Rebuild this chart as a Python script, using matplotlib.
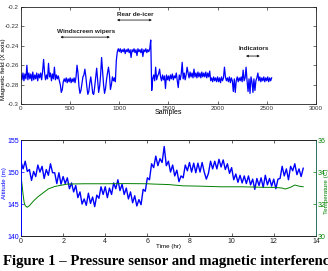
import matplotlib
matplotlib.use('Agg')
import matplotlib.pyplot as plt
import numpy as np

plt.rcParams['font.family'] = 'Liberation Sans'

# --- magnetic field, one value every 10 samples (0 .. 2550)
samples = np.arange(0, 2560, 10)
field = [
    -0.270, -0.275, -0.268, -0.276, -0.269, -0.274, -0.260, -0.275, -0.268, -0.274,
    -0.269, -0.276, -0.267, -0.275, -0.270, -0.274, -0.268, -0.276, -0.269, -0.273,
    -0.268, -0.275, -0.266, -0.254, -0.268, -0.275, -0.270, -0.274, -0.258, -0.272,
    -0.268, -0.276, -0.269, -0.274, -0.262, -0.275, -0.270, -0.274, -0.271, -0.276,
    -0.280, -0.288, -0.285, -0.277, -0.274, -0.277, -0.273, -0.278, -0.274, -0.277,
    -0.273, -0.278, -0.274, -0.277, -0.273, -0.278, -0.272, -0.260, -0.268, -0.282,
    -0.289, -0.286, -0.279, -0.272, -0.270, -0.264, -0.272, -0.282, -0.290, -0.287,
    -0.278, -0.272, -0.280, -0.289, -0.290, -0.282, -0.272, -0.263, -0.275, -0.288,
    -0.282, -0.270, -0.252, -0.266, -0.280, -0.289, -0.284, -0.275, -0.268, -0.262,
    -0.270, -0.285, -0.280, -0.272, -0.276, -0.273, -0.277, -0.255, -0.246, -0.243,
    -0.246, -0.243, -0.247, -0.244, -0.246, -0.243, -0.248, -0.244, -0.246, -0.243,
    -0.247, -0.244, -0.252, -0.244, -0.246, -0.243, -0.247, -0.244, -0.250, -0.243,
    -0.246, -0.244, -0.247, -0.243, -0.251, -0.244, -0.246, -0.243, -0.247, -0.244,
    -0.246, -0.243, -0.234, -0.286, -0.274, -0.270, -0.276, -0.262, -0.275, -0.271,
    -0.269, -0.264, -0.272, -0.276, -0.270, -0.275, -0.271, -0.284, -0.270, -0.275,
    -0.271, -0.276, -0.270, -0.274, -0.269, -0.275, -0.271, -0.273, -0.268, -0.276,
    -0.283, -0.270, -0.275, -0.269, -0.257, -0.274, -0.268, -0.275, -0.270, -0.262,
    -0.268, -0.273, -0.267, -0.272, -0.268, -0.273, -0.264, -0.272, -0.268, -0.273,
    -0.267, -0.272, -0.268, -0.273, -0.267, -0.272, -0.268, -0.272, -0.267, -0.273,
    -0.268, -0.272, -0.266, -0.276, -0.273, -0.277, -0.272, -0.276, -0.273, -0.277,
    -0.272, -0.277, -0.273, -0.278, -0.272, -0.276, -0.273, -0.262, -0.272, -0.276,
    -0.273, -0.277, -0.272, -0.278, -0.273, -0.276, -0.287, -0.274, -0.288, -0.276,
    -0.272, -0.277, -0.273, -0.276, -0.272, -0.277, -0.265, -0.276, -0.273, -0.262,
    -0.276, -0.287, -0.274, -0.289, -0.272, -0.277, -0.288, -0.274, -0.286, -0.276,
    -0.273, -0.268, -0.276, -0.272, -0.277, -0.273, -0.276, -0.272, -0.277, -0.273,
    -0.276, -0.272, -0.277, -0.273, -0.276, -0.273,
]

# --- altitude, one value every 0.1 hr (0 .. 13.4)
hours = np.arange(0, 135) / 10
altitude = [
    151.6, 150.5, 151.7, 150.1, 150.4, 148.7, 150.1, 149.3, 151.1, 150.0,
    150.9, 149.0, 150.4, 149.5, 151.3, 149.9, 149.9, 148.2, 149.9, 148.1,
    149.3, 148.2, 149.1, 147.4, 148.3, 146.9, 147.9, 146.0, 146.9, 145.0,
    145.8, 144.8, 146.7, 145.1, 146.1, 144.6, 146.4, 145.9, 147.7, 146.5,
    147.7, 146.0, 147.5, 146.5, 148.3, 147.4, 148.8, 147.1, 148.1, 146.5,
    147.5, 145.8, 146.9, 145.2, 146.3, 144.7, 145.7, 144.9, 147.3, 147.0,
    149.1, 148.8, 151.3, 150.7, 152.5, 151.0, 152.1, 151.5, 154.0, 151.0,
    151.7, 150.0, 151.1, 149.4, 150.3, 148.5, 149.4, 149.1, 151.1, 150.2,
    151.5, 150.0, 151.4, 149.9, 151.4, 150.0, 151.5, 150.0, 148.9, 149.8,
    151.7, 150.5, 151.7, 150.5, 152.0, 150.8, 151.9, 150.4, 151.3, 149.8,
    150.7, 148.8, 149.7, 148.4, 149.5, 148.3, 149.4, 148.2, 149.4, 148.0,
    148.9, 147.3, 149.0, 147.9, 149.1, 147.6, 149.5, 148.0, 149.0, 147.8,
    148.9, 147.4, 148.9, 149.0, 150.9, 149.4, 150.5, 148.8, 150.9, 150.2,
    151.3, 149.6, 150.5, 149.3, 150.6,
]

# --- temperature
temp_hours = [0.0, 0.05, 0.1, 0.15, 0.2, 0.3, 0.4, 0.6, 0.8, 1.0, 1.3, 1.6, 1.8,
              2.2, 3.0, 4.0, 5.0, 6.0, 6.3, 7.0, 7.7, 8.5, 9.5, 10.5, 11.5, 12.1,
              12.4, 12.55, 12.8, 13.0, 13.2, 13.4]
temperature = [33.8, 33.2, 32.6, 32.1, 31.9, 31.8, 31.9, 32.2, 32.45, 32.65, 32.95,
               33.1, 33.15, 33.25, 33.27, 33.27, 33.28, 33.27, 33.25, 33.22, 33.14,
               33.12, 33.08, 33.08, 33.05, 33.04, 33.0, 32.94, 33.05, 33.19, 33.12,
               33.08]

fig = plt.figure(figsize=(3.28, 2.71), dpi=100)
blue = '#0000ff'
green = '#008000'

# top: magnetic field
ax1 = fig.add_axes([0.064, 0.616, 0.899, 0.358])
ax1.plot(samples, field, color=blue, lw=0.9)
ax1.set_xlim(0, 3000)
ax1.set_ylim(-0.3, -0.2)
ax1.set_xticks(range(0, 3001, 500))
ax1.set_yticks([-0.3, -0.28, -0.26, -0.24, -0.22, -0.2])
ax1.set_yticklabels(['-0.3', '-0.28', '-0.26', '-0.24', '-0.22', '-0.2'])
ax1.tick_params(direction='in', length=2, width=0.5, labelsize=4.5, pad=1.5,
                top=True, right=True, colors='#333333')
ax1.set_xlabel('Samples', fontsize=5, labelpad=-1.5)
ax1.set_ylabel('Magnetic field (X axis)', fontsize=4.5)
ax1.yaxis.set_label_coords(-0.05, 0.36)
for s in ax1.spines.values():
    s.set_linewidth(0.6)
    s.set_color('#222222')

arrow = dict(arrowstyle='<|-|>', color='#222222', lw=0.6, mutation_scale=3,
             shrinkA=0, shrinkB=0)
ax1.annotate('', xy=(400, -0.231), xytext=(905, -0.231), arrowprops=arrow)
ax1.text(660, -0.2255, 'Windscreen wipers', fontsize=4.6, fontweight='bold',
         ha='center', va='center', color='#222222')
ax1.annotate('', xy=(976, -0.2134), xytext=(1332, -0.2134), arrowprops=arrow)
ax1.text(1160, -0.2075, 'Rear de-icer', fontsize=4.6, fontweight='bold',
         ha='center', va='center', color='#222222')
ax1.annotate('', xy=(2288, -0.2505), xytext=(2430, -0.2505), arrowprops=arrow)
ax1.text(2370, -0.2425, 'Indicators', fontsize=4.6, fontweight='bold',
         ha='center', va='center', color='#222222')

# bottom: altitude and temperature
ax2 = fig.add_axes([0.064, 0.129, 0.899, 0.354])
ax2.plot(hours, altitude, color=blue, lw=1.0)
ax2.set_xlim(0, 14)
ax2.set_ylim(140, 155)
ax2.set_xticks(range(0, 15, 2))
ax2.set_yticks([140, 145, 150, 155])
ax2.tick_params(axis='x', direction='in', length=2, width=0.5, labelsize=5,
                pad=1.5, top=True, colors='#222222')
ax2.tick_params(axis='y', direction='in', length=2, width=0.5, labelsize=5,
                pad=1.5, colors=blue)
ax2.set_xlabel('Time (hr)', fontsize=4.5, labelpad=-1)
ax2.set_ylabel('Altitude (m)', fontsize=4.5, color=blue)
ax2.yaxis.set_label_coords(-0.048, 0.55)

ax3 = ax2.twinx()
ax3.plot(temp_hours, temperature, color=green, lw=0.7)
ax3.set_ylim(30, 36)
ax3.set_yticks([30, 32, 34, 36])
ax3.tick_params(axis='y', direction='in', length=2, width=0.5, labelsize=5,
                pad=1.5, colors=green)
ax3.set_ylabel('Temperature (C)', fontsize=4.5, color=green)
ax3.yaxis.set_label_coords(1.026, 0.47)
for s in ax2.spines.values():
    s.set_linewidth(0.6)
    s.set_color('#222222')
ax3.spines['left'].set_color(blue)
ax3.spines['right'].set_color('#2e7d6e')
ax3.spines['top'].set_color('#222222')
ax3.spines['bottom'].set_color('#222222')
for s in ax3.spines.values():
    s.set_linewidth(0.6)
ax2.spines['left'].set_color(blue)

fig.text(0.01, 0.022, 'Figure 1 \u2013 Pressure sensor and magnetic interference',
         fontsize=10.6, fontweight='bold', family='Liberation Serif', ha='left',
         va='baseline')

fig.savefig('out.png', dpi=100)
